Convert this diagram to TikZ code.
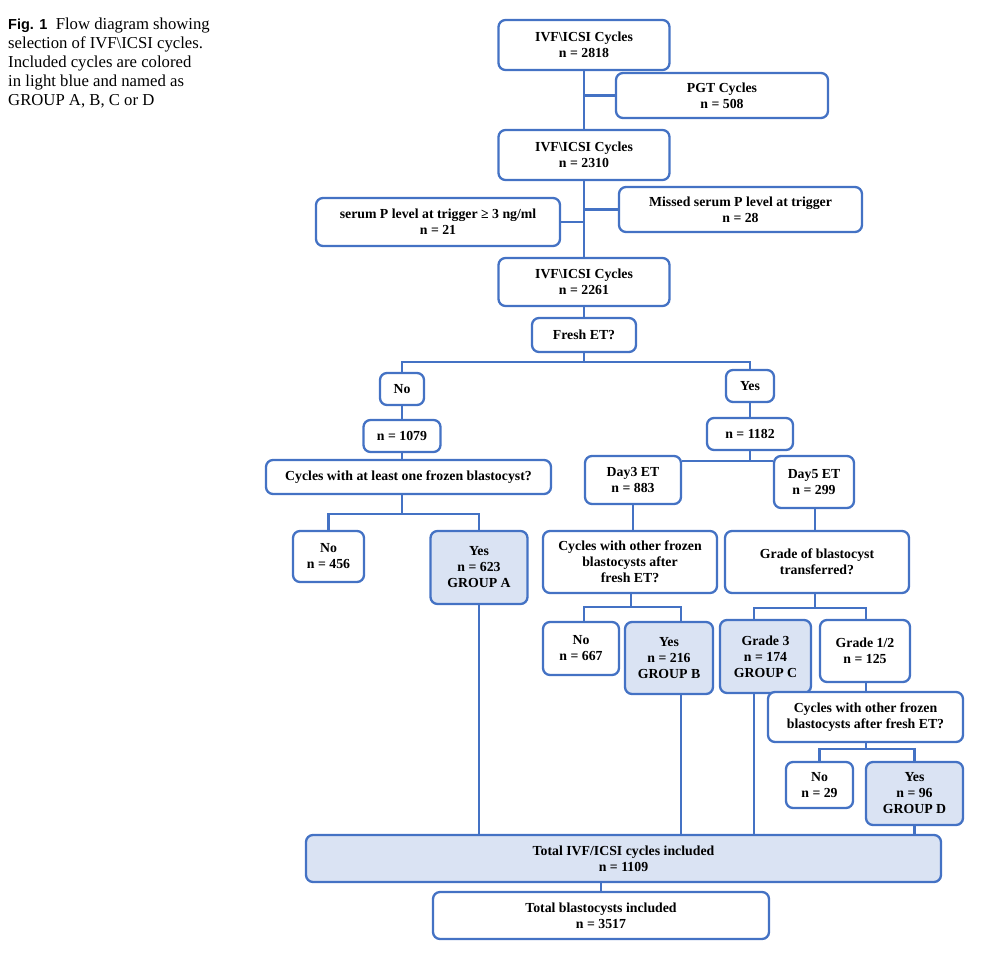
\documentclass[tikz,border=0pt]{standalone}
\usepackage{fontspec}
\setmainfont{Liberation Serif}
\newfontfamily\figsans{Liberation Sans}
\definecolor{boxblue}{RGB}{68,114,196}
\definecolor{groupfill}{RGB}{218,227,243}
\tikzset{
	flowbox/.style={draw=boxblue, line width=2.3pt, rounded corners=7pt, fill=white, align=center, inner sep=0pt, font=\fontsize{13.8}{16}\selectfont\bfseries},
	groupbox/.style={flowbox, fill=groupfill}, % included cycles
	boxsize/.style 2 args={minimum width=#1pt, minimum height=#2pt},
	link/.style={draw=boxblue, line width=2.3pt},
}

\begin{document}
\begin{tikzpicture}[x=1pt,y=-1pt]
			\useasboundingbox (0,0) rectangle (1000,978);
			
			% caption
			\node[anchor=north west, align=left, inner sep=0pt, font=\fontsize{16.7}{19}\selectfont] (caption) at (8,18)
				{{\figsans\bfseries\fontsize{14.5}{19}\selectfont Fig. 1}\enspace Flow diagram showing\\selection of IVF\textbackslash ICSI cycles.\\Included cycles are colored\\in light blue and named as\\GROUP A, B, C or D};
			
			% trunk boxes
			\node[flowbox, boxsize={171}{50}] (c2818) at (584,45) {IVF\textbackslash ICSI Cycles\\n = 2818};
			\node[flowbox, boxsize={212}{45}] (pgt) at (722,95.5) {PGT Cycles\\n = 508};
			\node[flowbox, boxsize={171}{50}] (c2310) at (584,155) {IVF\textbackslash ICSI Cycles\\n = 2310};
			\node[flowbox, boxsize={244}{48}] (serum) at (438,222) {serum P level at trigger ≥ 3 ng/ml\\n = 21};
			\node[flowbox, boxsize={243}{45}] (missed) at (740.5,209.5) {Missed serum P level at trigger\\n = 28};
			\node[flowbox, boxsize={171}{48}] (c2261) at (584,282) {IVF\textbackslash ICSI Cycles\\n = 2261};
			\node[flowbox, boxsize={104}{34}] (fresh) at (584,335) {Fresh ET?};
			
			% no fresh ET
			\node[flowbox, boxsize={44}{32}] (no1) at (402,389) {No};
			\node[flowbox, boxsize={77}{32}] (n1079) at (402,436) {n = 1079};
			\node[flowbox, boxsize={285}{34}] (frozen1) at (408.5,477) {Cycles with at least one frozen blastocyst?};
			\node[flowbox, boxsize={71}{51}] (no456) at (328.5,556.5) {No\\n = 456};
			\node[groupbox, boxsize={97}{73}] (yesA) at (479,567.5) {Yes\\n = 623\\GROUP A};
			
			% fresh ET
			\node[flowbox, boxsize={48}{32}] (yes1) at (750,386) {Yes};
			\node[flowbox, boxsize={86}{32}] (n1182) at (750,434) {n = 1182};
			\node[flowbox, boxsize={96}{48}] (day3) at (633,480) {Day3 ET\\n = 883};
			\node[flowbox, boxsize={80}{52}] (day5) at (814,482) {Day5 ET\\n = 299};
			\node[flowbox, boxsize={174}{62}] (other1) at (630,562) {Cycles with other frozen\\blastocysts after\\fresh ET?};
			\node[flowbox, boxsize={184}{62}] (grade) at (817,562) {Grade of blastocyst\\transferred?};
			\node[flowbox, boxsize={76}{53}] (no667) at (581,648.5) {No\\n = 667};
			\node[groupbox, boxsize={88}{72}] (yesB) at (669,658) {Yes\\n = 216\\GROUP B};
			\node[groupbox, boxsize={91}{73}] (grade3) at (765.5,656.5) {Grade 3\\n = 174\\GROUP C};
			\node[flowbox, boxsize={90}{62}] (grade12) at (865,651) {Grade 1/2\\n = 125};
			\node[flowbox, boxsize={195}{50}] (other2) at (865.5,717) {Cycles with other frozen\\blastocysts after fresh ET?};
			\node[flowbox, boxsize={67}{46}] (no29) at (819.5,785) {No\\n = 29};
			\node[groupbox, boxsize={97}{63}] (yesD) at (914.5,793.5) {Yes\\n = 96\\GROUP D};
			
			% totals
			\node[groupbox, boxsize={635}{47}] (total) at (623.5,858.5) {Total IVF/ICSI cycles included\\n = 1109};
			\node[flowbox, boxsize={336}{47}] (blast) at (601,915.5) {Total blastocysts included\\n = 3517};
			
			% split points
			\coordinate (fsplit) at (584,362);
			\coordinate (dsplit) at (750,461);
			\coordinate (asplit) at (402,514);
			\coordinate (bsplit) at (631,607);
			\coordinate (bno) at (584,607);
			\coordinate (byes) at (681,607);
			\coordinate (csplit) at (815,608);
			\coordinate (c3) at (754,608);
			\coordinate (c12) at (866,608);
			\coordinate (esplit) at (866,749);
			
			% Draw connectors
			\draw[link] (c2818) -- (c2310);
			\draw[link] (c2818.south |- pgt.west) -- (pgt.west);
			\draw[link] (c2310) -- (c2261);
			\draw[link] (serum.east) -- (serum.east -| c2310.south);
			\draw[link] (missed.west -| c2310.south) -- (missed.west);
			\draw[link] (c2261) -- (fresh);
			\draw[link] (fresh) -- (fsplit);
			\draw[link] (no1) |- (fsplit) -| (yes1);
			\draw[link] (no1) -- (n1079);
			\draw[link] (n1079) -- (n1079 |- frozen1.north);
			\draw[link] (asplit |- frozen1.south) -- (asplit);
			\draw[link] (no456) |- (asplit) -| (yesA);
			\draw[link] (yes1) -- (n1182);
			\draw[link] (n1182) -- (dsplit);
			\draw[link] (dsplit -| day3.east) -- (dsplit -| day5.west);
			\draw[link] (day3) -- (day3 |- other1.north);
			\draw[link] (csplit |- day5.south) -- (csplit |- grade.north);
			\draw[link] (bsplit |- other1.south) -- (bsplit);
			\draw[link] (bno |- no667.north) -- (bno) -- (byes) -- (byes |- yesB.north);
			\draw[link] (csplit |- grade.south) -- (csplit);
			\draw[link] (c3 |- grade3.north) -- (c3) -- (c12) -- (c12 |- grade12.north);
			\draw[link] (c12 |- grade12.south) -- (c12 |- other2.north);
			\draw[link] (esplit |- other2.south) -- (esplit);
			\draw[link] (no29) |- (esplit) -| (yesD);
			
			% included groups down to total
			\draw[link] (yesA) -- (yesA |- total.north);
			\draw[link] (byes |- yesB.south) -- (byes |- total.north);
			\draw[link] (c3 |- grade3.south) -- (c3 |- total.north);
			\draw[link] (yesD) -- (yesD |- total.north);
			\draw[link] (blast.north |- total.south) -- (blast.north);
			
\end{tikzpicture}
\end{document}
